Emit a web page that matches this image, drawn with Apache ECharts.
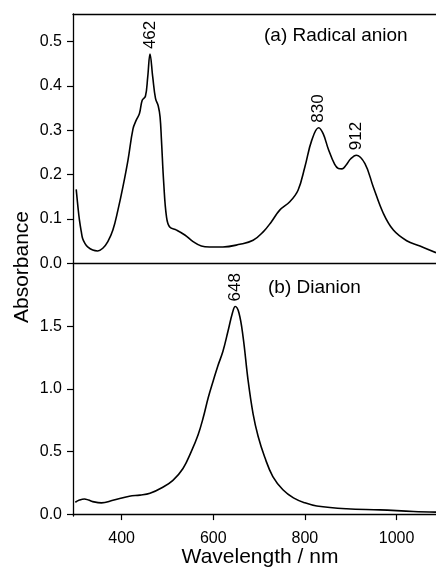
<!DOCTYPE html>
<html>
<head>
<meta charset="utf-8">
<script src="https://cdn.jsdelivr.net/npm/echarts@6/dist/echarts.min.js"></script>
<style>html,body{margin:0;padding:0;background:#fff}#c{width:436px;height:569px}</style>
</head>
<body>
<div id="c"></div>
<script>
// Radical anion spectrum (a)
var radicalWl  = [301,305,308,312,315,320,326,337,348,359,370,381,392,403,414,425,432,439,445,452,457,462,468,474,480,484,487,492,498,505,520,538,556,574,592,621,658,687,709,727,745,767,785,800,815,830,840,851,865,873,881,890,900,912,931,949,971,993,1022,1051,1086];
var radicalAbs = [0.167,0.125,0.098,0.072,0.056,0.045,0.037,0.030,0.028,0.034,0.049,0.075,0.120,0.173,0.233,0.304,0.323,0.338,0.368,0.377,0.420,0.472,0.420,0.372,0.355,0.330,0.278,0.180,0.105,0.082,0.075,0.064,0.049,0.039,0.037,0.037,0.043,0.052,0.071,0.094,0.120,0.139,0.165,0.218,0.278,0.306,0.292,0.258,0.223,0.214,0.213,0.222,0.236,0.244,0.225,0.173,0.113,0.075,0.051,0.039,0.024];
// Dianion spectrum (b)
var dianionWl  = [299,308,319,328,337,356,381,417,440,462,490,512,534,552,567,578,589,600,610,621,632,642,648,656,665,676,687,698,712,730,752,775,800,826,891,964,1037,1086];
var dianionAbs = [0.095,0.112,0.121,0.112,0.100,0.090,0.110,0.143,0.152,0.167,0.215,0.270,0.365,0.500,0.635,0.770,0.930,1.066,1.185,1.300,1.460,1.610,1.660,1.610,1.420,1.070,0.800,0.620,0.458,0.300,0.195,0.130,0.090,0.065,0.043,0.034,0.021,0.016];
// Peak labels
var radicalPeakWl  = [462, 830, 912];
var radicalPeakAbs = [0.472, 0.306, 0.244];
var dianionPeakWl  = [648];
var dianionPeakAbs = [1.66];
// Ticks
var xTicks = [400, 600, 800, 1000];
var yTicksA = [0, 0.1, 0.2, 0.3, 0.4, 0.5];
var yTicksB = [0, 0.5, 1.0, 1.5];

function zip(a, b) { return a.map(function (v, i) { return [v, b[i]]; }); }

var FONT = "'Liberation Sans', Arial, Helvetica, sans-serif";
var axisColor = '#000';

var chart = echarts.init(document.getElementById('c'), null, {renderer: 'canvas'});

function peakMarks(wl, ab) {
  return {
    symbol: 'circle', symbolSize: 0, silent: true, animation: false,
    label: {
      show: true, formatter: '{b}', position: 'top', distance: 5, rotate: 90,
      align: 'left', verticalAlign: 'middle',
      fontFamily: FONT, fontSize: 17, color: '#000'
    },
    data: wl.map(function (w, i) { return {name: String(w), coord: [w, ab[i]]}; })
  };
}

var yLab = {
  fontFamily: FONT, fontSize: 16, color: '#000', margin: 11,
  formatter: function (v) { return v.toFixed(1); }
};

var option = {
  animation: false,
  backgroundColor: '#fff',
  grid: [
    {left: 73, right: 0, top: 14, height: 252},
    {left: 73, right: 0, top: 266, height: 252}
  ],
  xAxis: [
    {gridIndex: 0, type: 'value', min: 294, max: 1086, position: 'bottom',
     axisLine: {show: true, lineStyle: {color: axisColor, width: 1.3}},
     axisTick: {show: false}, axisLabel: {show: false}, splitLine: {show: false}},
    {gridIndex: 0, type: 'value', min: 294, max: 1086, position: 'top',
     axisLine: {show: true, lineStyle: {color: axisColor, width: 1.3}},
     axisTick: {show: false}, axisLabel: {show: false}, splitLine: {show: false}},
    {gridIndex: 1, type: 'value', min: 294, max: 1086, position: 'bottom',
     axisLine: {show: true, lineStyle: {color: axisColor, width: 1.3}},
     axisTick: {show: true, inside: false, length: 6, customValues: xTicks, lineStyle: {color: axisColor, width: 1.2}},
     axisLabel: {show: true, customValues: xTicks, fontFamily: FONT, fontSize: 16, color: '#000', margin: 14,
                 formatter: function (v) { return String(v); }},
     splitLine: {show: false},
     name: 'Wavelength / nm', nameLocation: 'middle', nameGap: 28,
     nameTextStyle: {fontFamily: FONT, fontSize: 21, color: '#000', padding: [0, 0, 0, 11]}}
  ],
  yAxis: [
    {gridIndex: 0, type: 'value', min: -0.006, max: 0.5625,
     axisLine: {show: true, lineStyle: {color: axisColor, width: 1.3}},
     axisTick: {show: true, inside: false, length: 6, customValues: yTicksA, lineStyle: {color: axisColor, width: 1.2}},
     axisLabel: Object.assign({customValues: yTicksA}, yLab),
     splitLine: {show: false}},
    {gridIndex: 1, type: 'value', min: -0.016, max: 1.984,
     axisLine: {show: true, lineStyle: {color: axisColor, width: 1.3}},
     axisTick: {show: true, inside: false, length: 6, customValues: yTicksB, lineStyle: {color: axisColor, width: 1.2}},
     axisLabel: Object.assign({customValues: yTicksB}, yLab),
     splitLine: {show: false}}
  ],
  series: [
    {type: 'line', xAxisIndex: 0, yAxisIndex: 0, data: zip(radicalWl, radicalAbs),
     showSymbol: false, smooth: 0.4,
     lineStyle: {color: '#000', width: 1.6}, markPoint: peakMarks(radicalPeakWl, radicalPeakAbs)},
    {type: 'line', xAxisIndex: 2, yAxisIndex: 1, data: zip(dianionWl, dianionAbs),
     showSymbol: false, smooth: 0.4,
     lineStyle: {color: '#000', width: 1.6}, markPoint: peakMarks(dianionPeakWl, dianionPeakAbs)}
  ],
  graphic: [
    {type: 'text', x: 22, y: 267, rotation: Math.PI / 2,
     style: {text: 'Absorbance', font: '21px ' + FONT, fill: '#000', align: 'center', verticalAlign: 'middle'}},
    {type: 'text', x: 264, y: 36,
     style: {text: '(a) Radical anion', font: '19px ' + FONT, fill: '#000', align: 'left', verticalAlign: 'middle'}},
    {type: 'text', x: 268, y: 288,
     style: {text: '(b) Dianion', font: '19px ' + FONT, fill: '#000', align: 'left', verticalAlign: 'middle'}}
  ]
};
chart.setOption(option);
</script>
</body>
</html>
